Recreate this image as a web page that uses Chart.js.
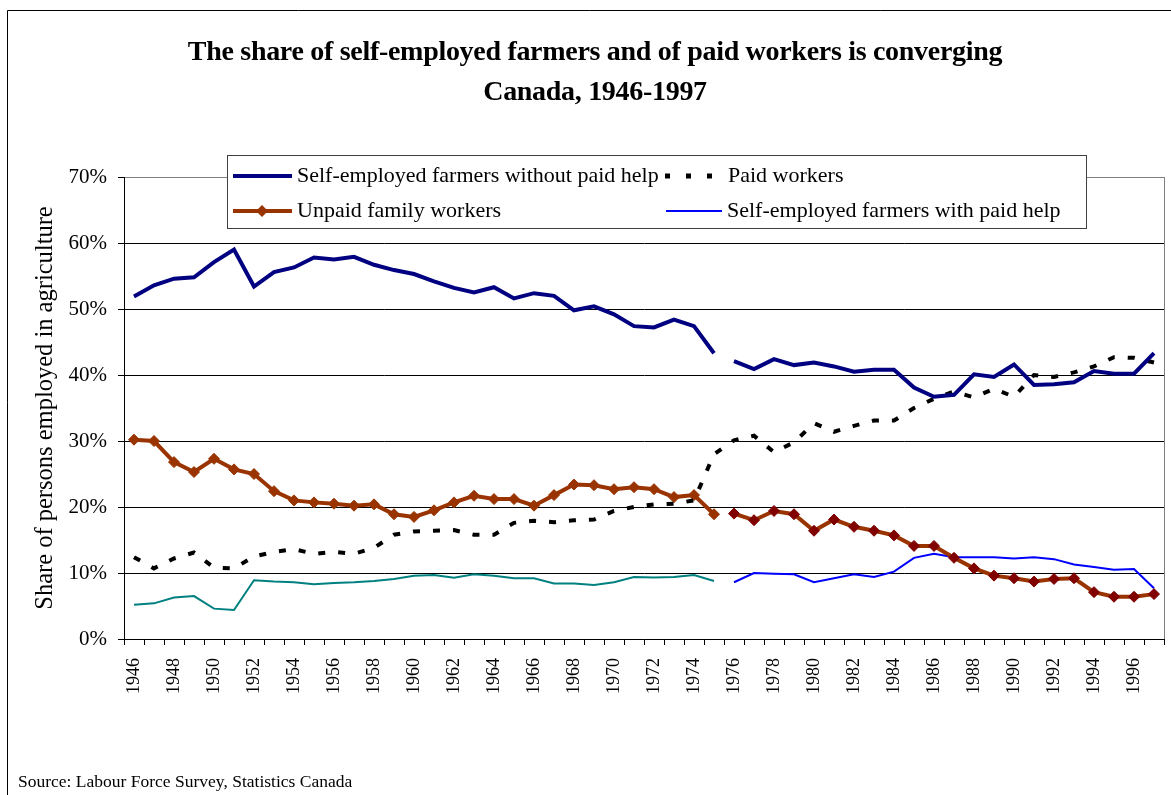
<!DOCTYPE html>
<html>
<head>
<meta charset="utf-8">
<script src="https://cdn.jsdelivr.net/npm/chart.js@4.4.1/dist/chart.umd.min.js"></script>
<style>
  html, body { margin: 0; padding: 0; background: #fff; }
</style>
</head>
<body>
<canvas id="chart" width="1171" height="795"></canvas>
<script>
const years = ["1946","1947","1948","1949","1950","1951","1952","1953","1954","1955",
  "1956","1957","1958","1959","1960","1961","1962","1963","1964","1965",
  "1966","1967","1968","1969","1970","1971","1972","1973","1974","1975",
  "1976","1977","1978","1979","1980","1981","1982","1983","1984","1985",
  "1986","1987","1988","1989","1990","1991","1992","1993","1994","1995",
  "1996","1997"];

// shares in %
const selfNoHelp = [51.9,53.6,54.6,54.8,57.1,59.0,53.4,55.6,56.3,57.8,
  57.5,57.9,56.7,55.9,55.3,54.2,53.2,52.5,53.3,51.6,
  52.4,52.0,49.8,50.4,49.2,47.4,47.2,48.4,47.4,43.3,
  42.1,40.9,42.4,41.5,41.9,41.3,40.5,40.8,40.8,38.1,
  36.7,37.0,40.1,39.7,41.6,38.5,38.6,38.9,40.6,40.2,
  40.2,43.3];
const paidWorkers = [12.4,10.7,12.2,13.1,10.8,10.7,12.5,13.2,13.6,12.9,
  13.2,12.9,13.8,15.8,16.3,16.4,16.5,15.8,15.8,17.6,
  17.9,17.7,18.0,18.1,19.4,20.0,20.4,20.5,21.0,28.0,
  30.1,30.8,28.3,29.8,32.7,31.4,32.3,33.1,33.1,35.0,
  36.4,37.5,36.6,37.9,36.7,40.0,39.7,40.4,41.3,42.7,
  42.6,41.9];
const unpaidFamily = [30.2,30.0,26.8,25.3,27.3,25.7,25.0,22.4,21.0,20.7,
  20.5,20.2,20.4,18.9,18.5,19.5,20.7,21.7,21.2,21.2,
  20.2,21.8,23.4,23.3,22.7,23.0,22.7,21.5,21.8,18.9,
  19.0,18.0,19.4,18.9,16.4,18.1,17.0,16.4,15.7,14.1,
  14.1,12.3,10.7,9.6,9.2,8.7,9.1,9.2,7.1,6.4,
  6.4,6.8];
const selfWithHelp = [5.2,5.4,6.3,6.5,4.6,4.4,8.9,8.7,8.6,8.3,
  8.5,8.6,8.8,9.1,9.6,9.7,9.3,9.8,9.6,9.2,
  9.2,8.4,8.4,8.2,8.6,9.4,9.3,9.4,9.7,8.8,
  8.6,10.0,9.9,9.8,8.6,9.2,9.8,9.4,10.2,12.3,
  12.9,12.4,12.4,12.4,12.2,12.4,12.1,11.3,10.9,10.5,
  10.6,7.7];

const yTicks = [0, 10, 20, 30, 40, 50, 60, 70];
const breakYear = "1975";   // series break between 1975 and 1976

const serif = "'Liberation Serif', 'Times New Roman', serif";
const breakIdx = years.indexOf(breakYear);

const NAVY = '#000080', BROWN = '#993300', DARKRED = '#800000', TEAL = '#008080', BLUE = '#0000ff';

const decorations = {
  id: 'decorations',
  beforeDraw(chart) {
    const ctx = chart.ctx;
    ctx.save();
    ctx.fillStyle = '#fff';
    ctx.fillRect(0, 0, chart.width, chart.height);
    ctx.restore();
  },
  afterDraw(chart) {
    const ctx = chart.ctx, a = chart.chartArea;
    ctx.save();

    // right edge of plot area
    ctx.strokeStyle = '#808080';
    ctx.lineWidth = 1;
    ctx.beginPath();
    ctx.moveTo(Math.round(a.right) + 0.5, a.top);
    ctx.lineTo(Math.round(a.right) + 0.5, a.bottom);
    ctx.stroke();

    // legend box
    ctx.fillStyle = '#fff';
    ctx.fillRect(227, 155, 859, 73);
    ctx.strokeStyle = '#404040';
    ctx.strokeRect(227.5, 155.5, 859, 73);

    ctx.font = '22px ' + serif;
    ctx.fillStyle = '#000';
    ctx.textBaseline = 'middle';
    const r1 = 176, r2 = 211;

    ctx.lineCap = 'butt';
    ctx.strokeStyle = NAVY; ctx.lineWidth = 4;
    ctx.beginPath(); ctx.moveTo(233, r1); ctx.lineTo(292, r1); ctx.stroke();
    ctx.fillText('Self-employed farmers without paid help', 297, r1);

    ctx.strokeStyle = '#000'; ctx.lineWidth = 5; ctx.setLineDash([5, 16]);
    ctx.beginPath(); ctx.moveTo(665, r1); ctx.lineTo(713, r1); ctx.stroke();
    ctx.setLineDash([]);
    ctx.fillText('Paid workers', 728, r1);

    ctx.strokeStyle = BROWN; ctx.lineWidth = 4;
    ctx.beginPath(); ctx.moveTo(233, r2); ctx.lineTo(292, r2); ctx.stroke();
    ctx.fillStyle = BROWN;
    ctx.beginPath();
    ctx.moveTo(262, r2 - 6); ctx.lineTo(268, r2); ctx.lineTo(262, r2 + 6); ctx.lineTo(256, r2);
    ctx.closePath(); ctx.fill();
    ctx.fillStyle = '#000';
    ctx.fillText('Unpaid family workers', 297, r2);

    ctx.strokeStyle = BLUE; ctx.lineWidth = 2;
    ctx.beginPath(); ctx.moveTo(666, r2); ctx.lineTo(722, r2); ctx.stroke();
    ctx.fillText('Self-employed farmers with paid help', 727, r2);

    // title
    ctx.textAlign = 'center';
    ctx.font = 'bold 28px ' + serif;
    ctx.letterSpacing = '-0.3px';
    ctx.fillText('The share of self-employed farmers and of paid workers is converging', 595, 53);
    ctx.fillText('Canada, 1946-1997', 595, 93);
    ctx.letterSpacing = '0px';

    // source
    ctx.textAlign = 'left';
    ctx.font = '17.5px ' + serif;
    ctx.fillText('Source: Labour Force Survey, Statistics Canada', 18, 782);

    // outer frame
    ctx.strokeStyle = '#000'; ctx.lineWidth = 1;
    ctx.beginPath();
    ctx.moveTo(7.5, chart.height); ctx.lineTo(7.5, 10.5); ctx.lineTo(chart.width, 10.5);
    ctx.stroke();

    ctx.restore();
  }
};

new Chart(document.getElementById('chart'), {
  type: 'line',
  data: {
    labels: years,
    datasets: [
      {
        label: 'Self-employed farmers without paid help',
        data: selfNoHelp,
        borderColor: NAVY,
        borderWidth: 4,
        pointRadius: 0,
        tension: 0,
        segment: {
          borderColor: c => c.p0DataIndex === breakIdx ? 'rgba(0,0,0,0)' : NAVY
        }
      },
      {
        label: 'Paid workers',
        data: paidWorkers,
        borderColor: '#000',
        borderWidth: 4,
        borderDash: [7, 13],
        pointRadius: 0,
        tension: 0
      },
      {
        label: 'Unpaid family workers',
        data: unpaidFamily,
        borderColor: BROWN,
        borderWidth: 4,
        pointStyle: 'rectRot',
        pointRadius: 5.5,
        pointBorderWidth: 1,
        pointBackgroundColor: c => c.dataIndex > breakIdx ? DARKRED : BROWN,
        pointBorderColor: c => c.dataIndex > breakIdx ? DARKRED : BROWN,
        tension: 0,
        segment: {
          borderColor: c => c.p0DataIndex === breakIdx ? 'rgba(0,0,0,0)' : BROWN
        }
      },
      {
        label: 'Self-employed farmers with paid help',
        data: selfWithHelp,
        borderColor: BLUE,
        borderWidth: 2,
        pointRadius: 0,
        tension: 0,
        segment: {
          borderColor: c => c.p0DataIndex === breakIdx ? 'rgba(0,0,0,0)'
            : (c.p0DataIndex < breakIdx ? TEAL : BLUE)
        }
      }
    ]
  },
  options: {
    responsive: false,
    animation: false,
    layout: { padding: { top: 177, left: 7, right: 7, bottom: 0 } },
    plugins: {
      legend: { display: false },
      title: { display: false },
      tooltip: { enabled: false }
    },
    scales: {
      x: {
        offset: true,
        grid: {
          offset: true,
          drawOnChartArea: false,
          drawTicks: true,
          tickLength: 6,
          tickColor: '#000'
        },
        border: { color: '#000', width: 1 },
        ticks: {
          autoSkip: false,
          maxRotation: 90,
          minRotation: 90,
          padding: 13,
          color: '#000',
          font: { family: serif, size: 18 },
          callback: function (v, i) { return i % 2 === 0 ? this.getLabelForValue(v) : ''; }
        },
        afterFit: s => { s.height = 156; s.paddingLeft = 0; s.paddingRight = 0; }
      },
      y: {
        min: yTicks[0],
        max: yTicks[yTicks.length - 1],
        afterBuildTicks: s => { s.ticks = yTicks.map(v => ({ value: v })); },
        grid: {
          color: c => c.tick && c.tick.value === 70 ? '#808080' : '#000',
          tickLength: 6,
          tickColor: '#000'
        },
        border: { color: '#000', width: 1 },
        ticks: {
          padding: 11,
          color: '#000',
          font: { family: serif, size: 21 },
          callback: v => v + '%'
        },
        title: {
          display: true,
          text: 'Share of persons employed in agriculture',
          color: '#000',
          font: { family: serif, size: 24.5 },
          padding: { top: 24, bottom: 0 }
        },
        afterFit: s => { s.width = 117; s.paddingTop = 0; s.paddingBottom = 0; }
      }
    }
  },
  plugins: [decorations]
});
</script>
</body>
</html>
